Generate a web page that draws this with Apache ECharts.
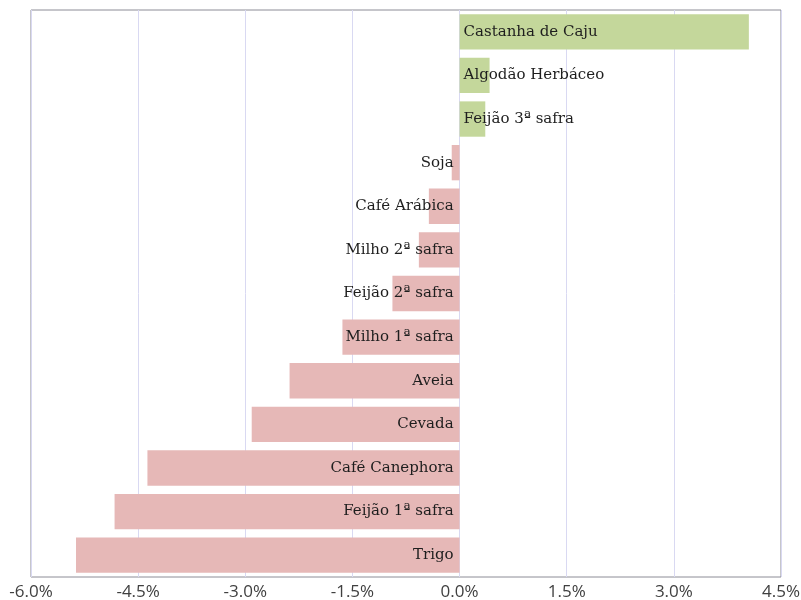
<!DOCTYPE html>
<html>
<head>
<meta charset="utf-8">
<script src="https://cdn.jsdelivr.net/npm/echarts@6/dist/echarts.min.js"></script>
<style>html,body{margin:0;padding:0;background:#fff}#c{width:801px;height:600px}</style>
</head>
<body>
<div id="c"></div>
<script>
const categories = ["Castanha de Caju","Algodão Herbáceo","Feijão 3ª safra","Soja","Café Arábica","Milho 2ª safra","Feijão 2ª safra","Milho 1ª safra","Aveia","Cevada","Café Canephora","Feijão 1ª safra","Trigo"];
const values = [4.05, 0.42, 0.36, -0.11, -0.43, -0.57, -0.94, -1.64, -2.38, -2.91, -4.37, -4.83, -5.37];
const tickMin = -6.0, tickMax = 4.5, tickStep = 1.5;

const labelFont = {fontFamily: "DejaVu Serif", fontSize: 15, color: "#1e1e1e"};
const data = values.map((v, i) => ({
  value: v,
  name: categories[i],
  itemStyle: {color: v >= 0 ? "#c4d79b" : "#e6b8b7"},
  label: Object.assign({
    show: true,
    formatter: "{b}",
    position: v >= 0 ? "insideLeft" : "insideRight",
    distance: v >= 0 ? 4 : 6
  }, labelFont)
}));

const chart = echarts.init(document.getElementById("c"), null, {renderer: "canvas"});
chart.setOption({
  animation: false,
  grid: {left: 31, right: 20, top: 10, bottom: 23, containLabel: false, outerBoundsMode: "none",
         show: true, borderColor: "#8c8c96", borderWidth: 1, backgroundColor: "transparent"},
  xAxis: {
    type: "value", min: tickMin, max: tickMax, interval: tickStep,
    axisLine: {show: false}, axisTick: {show: false},
    splitLine: {show: true, lineStyle: {color: "#d9d9f2", width: 1}},
    axisLabel: {formatter: v => v.toFixed(1) + "%", fontFamily: "Open Sans", fontSize: 17, color: "#404040", margin: 7}
  },
  yAxis: {
    type: "category", data: categories, inverse: true,
    axisLine: {show: false}, axisTick: {show: false}, axisLabel: {show: false}, splitLine: {show: false}
  },
  series: [{
    type: "bar", data: data, barCategoryGap: "19%"
  }]
});
</script>
</body>
</html>
